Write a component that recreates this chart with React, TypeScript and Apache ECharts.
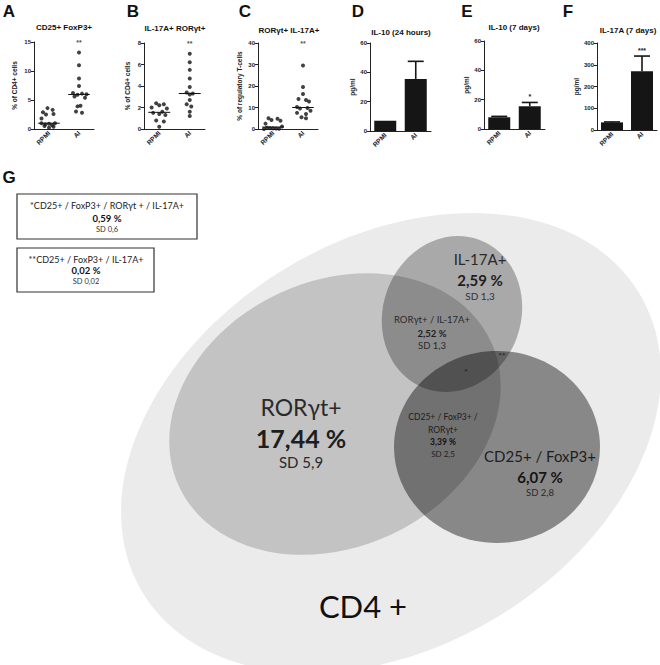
import React, { useEffect, useRef } from "react";
import * as echarts from "echarts";

const groups = ["RPMI", "AI"];
const letters = ["A", "B", "C", "D", "E", "F"];
const panelTitles = [
  "CD25+ FoxP3+",
  "IL-17A+ RORγt+",
  "RORγt+ IL-17A+",
  "IL-10 (24 hours)",
  "IL-10 (7 days)",
  "IL-17A (7 days)",
];
const yNames = ["% of CD4+ cells", "% of CD4+ cells", "% of regulatory T-cells", "pg/ml", "pg/ml", "pg/ml"];
const yMax = [15, 8, 40, 60, 60, 400];
const yStep = [5, 2, 10, 20, 20, 100];

// Panel A – CD25+ FoxP3+
const aRpmi = [3.6, 3.3, 2.9, 2.6, 2.5, 1.8, 1.0, 1.0, 0.9, 0.8, 0.7, 0.5, 0.4, 0.2];
const aRpmiSpread = [-0.05, 0.12, -0.2, 0.15, -0.1, -0.25, -0.25, 0.2, 0.0, -0.12, 0.1, -0.15, 0.15, 0.0];
const aAi = [13.2, 11.0, 8.7, 7.4, 6.2, 6.1, 6.0, 5.9, 5.6, 5.4, 4.0, 3.9, 3.0, 2.8];
const aAiSpread = [0, 0, 0, 0, -0.2, 0.1, 0.25, -0.05, -0.15, 0.2, 0.05, -0.05, -0.1, 0.1];

// Panel B – IL-17A+ RORγt+
const bRpmi = [2.4, 2.3, 2.2, 2.0, 1.9, 1.6, 1.5, 1.4, 1.3, 0.8, 0.7, 0.2];
const bRpmiSpread = [-0.1, 0.15, 0.0, -0.25, 0.25, 0.1, -0.2, 0.0, 0.2, -0.1, 0.15, 0.0];
const bAi = [7.0, 6.2, 5.5, 4.7, 3.9, 3.4, 3.3, 3.2, 2.7, 2.3, 2.1, 1.6, 1.2];
const bAiSpread = [0, 0, 0, 0, 0, -0.1, 0.1, 0.0, 0.0, -0.1, 0.05, 0, 0];

// Panel C – RORγt+ IL-17A+ (% of regulatory T-cells)
const cRpmi = [5.0, 4.8, 4.2, 3.8, 2.5, 1.2, 0.6, 0.4, 0.3, 0.2, 0.1, 0.0];
const cRpmiSpread = [-0.15, 0.15, -0.05, 0.25, -0.25, 0.3, -0.2, -0.1, 0, 0.1, 0.2, -0.3];
const cAi = [29.5, 19.5, 16.3, 14.0, 13.5, 12.8, 10.2, 9.8, 9.5, 8.5, 7.5, 7.0, 5.5, 5.0];
const cAiSpread = [0, 0, 0, -0.15, 0.1, 0.2, -0.2, 0.15, -0.1, 0.25, -0.2, 0.1, -0.05, 0.1];
const scatterStars = ["**", "**", "**"];

// Panels D–F – cytokines (mean, SEM)
const dMean = [7.0, 35.5];
const dSem = [0, 12.0];
const dStars = ["", ""];
const eMean = [8.0, 15.5];
const eSem = [0.6, 2.6];
const eStars = ["", "*"];
const fMean = [35, 270];
const fSem = [2, 70];
const fStars = ["", "***"];

// Panel G – Venn labels
const vennSets = ["CD4 +", "RORγt+", "IL-17A+", "CD25+ / FoxP3+"];
const vennPct = ["", "17,44 %", "2,59 %", "6,07 %"];
const vennSd = ["", "SD 5,9", "SD 1,3", "SD 2,8"];
const overlapRorIl = ["RORγt+ / IL-17A+", "2,52 %", "SD 1,3"];
const overlapCdRor = ["CD25+ / FoxP3+ /", "RORγt+", "3,39 %", "SD 2,5"];
const box1Lines = ["*CD25+ / FoxP3+ / RORγt + / IL-17A+", "0,59 %", "SD 0,6"];
const box2Lines = ["**CD25+ / FoxP3+ / IL-17A+", "0,02 %", "SD 0,02"];

const ARIAL = '"Liberation Sans", Arial, Helvetica, sans-serif';
const VENN = 'Lato, "Open Sans", "Noto Sans", sans-serif';

const median = (arr: number[]) => {
  const s = [...arr].sort((a, b) => a - b);
  const n = s.length;
  return n % 2 ? s[(n - 1) / 2] : (s[n / 2 - 1] + s[n / 2]) / 2;
};

const grids = [
  { left: 34, top: 42, width: 60, height: 87 },
  { left: 144, top: 43, width: 61, height: 86 },
  { left: 258, top: 43, width: 60, height: 86 },
  { left: 370, top: 43, width: 61, height: 88 },
  { left: 484, top: 41, width: 61, height: 88 },
  { left: 597, top: 43, width: 60, height: 87 },
];
const nameGaps = [16, 13, 15, 12, 13, 14];
const titlePos = [
  [64, 27], [175, 28], [289, 30], [401, 32], [514, 27], [628, 30],
];
const letterPos = [
  [9, 11], [133, 11], [245, 11], [358, 11], [467, 11], [568, 11],
];

function buildOption() {
  const grid: any[] = [];
  const xAxis: any[] = [];
  const yAxis: any[] = [];
  const series: any[] = [];

  const catAxis = (gi: number) => ({
    type: "category",
    gridIndex: gi,
    data: groups,
    boundaryGap: true,
    axisLine: { show: true, lineStyle: { color: "#222", width: 1 } },
    axisTick: { show: false },
    axisLabel: {
      rotate: 45,
      fontSize: 6.5,
      fontWeight: "bold",
      fontFamily: ARIAL,
      color: "#222",
      margin: 3,
    },
    splitLine: { show: false },
  });
  const valAxis = (gi: number) => ({
    type: "value",
    gridIndex: gi,
    min: 0,
    max: yMax[gi],
    interval: yStep[gi],
    name: yNames[gi],
    nameLocation: "middle",
    nameRotate: 90,
    nameGap: nameGaps[gi],
    nameTextStyle: { fontSize: 6.5, fontWeight: "bold", fontFamily: ARIAL, color: "#222" },
    axisLine: { show: true, lineStyle: { color: "#222", width: 1 } },
    axisTick: { show: true, length: 3, inside: false, lineStyle: { color: "#222" } },
    axisLabel: { fontSize: 6, fontWeight: "bold", fontFamily: ARIAL, color: "#222", margin: 3 },
    splitLine: { show: false },
  });

  const scatterSets = [
    [aRpmi, aRpmiSpread, aAi, aAiSpread],
    [bRpmi, bRpmiSpread, bAi, bAiSpread],
    [cRpmi, cRpmiSpread, cAi, cAiSpread],
  ];
  scatterSets.forEach((set, gi) => {
    grid.push({ ...grids[gi], containLabel: false });
    xAxis.push(catAxis(gi));
    const vIdx = xAxis.length;
    xAxis.push({ type: "value", gridIndex: gi, min: 0, max: 2, show: false });
    yAxis.push(valAxis(gi));
    const [r, rx, a, ax] = set as number[][];
    [[r, rx, 0.5], [a, ax, 1.5]].forEach(([vals, spread, c]: any) => {
      series.push({
        type: "scatter",
        xAxisIndex: vIdx,
        yAxisIndex: gi,
        data: vals.map((v: number, k: number) => [c + spread[k], v]),
        symbolSize: 4,
        itemStyle: { color: "#111" },
        silent: true,
      });
      const m = median(vals);
      series.push({
        type: "line",
        xAxisIndex: vIdx,
        yAxisIndex: gi,
        data: [[c - 0.36, m], [c + 0.36, m]],
        symbol: "none",
        lineStyle: { color: "#111", width: 1 },
        silent: true,
      });
    });
    series.push({
      type: "scatter",
      xAxisIndex: vIdx,
      yAxisIndex: gi,
      data: [[1.5, yMax[gi]]],
      symbolSize: 1,
      itemStyle: { color: "rgba(0,0,0,0)" },
      label: {
        show: true,
        position: "inside",
        formatter: scatterStars[gi],
        fontSize: 7,
        fontWeight: "bold",
        fontFamily: ARIAL,
        color: "#222",
      },
      silent: true,
    });
  });

  const barSets = [
    [dMean, dSem, dStars],
    [eMean, eSem, eStars],
    [fMean, fSem, fStars],
  ];
  barSets.forEach(([mean, sem, stars]: any, j) => {
    const gi = 3 + j;
    grid.push({ ...grids[gi], containLabel: false });
    const cIdx = xAxis.length;
    xAxis.push(catAxis(gi));
    yAxis.push(valAxis(gi));
    series.push({
      type: "bar",
      xAxisIndex: cIdx,
      yAxisIndex: gi,
      data: mean,
      barWidth: 22,
      itemStyle: { color: "#151515" },
      silent: true,
    });
    series.push({
      type: "custom",
      xAxisIndex: cIdx,
      yAxisIndex: gi,
      data: mean.map((m: number, k: number) => [k, m, sem[k]]),
      z: 5,
      silent: true,
      renderItem: (params: any, api: any) => {
        const k = api.value(0);
        const m = api.value(1);
        const e = api.value(2);
        const base = api.coord([k, m]);
        const top = api.coord([k, m + e]);
        const children: any[] = [];
        if (e > 0) {
          children.push({
            type: "line",
            shape: { x1: base[0], y1: base[1], x2: top[0], y2: top[1] },
            style: { stroke: "#151515", lineWidth: 1.6 },
          });
          children.push({
            type: "line",
            shape: { x1: top[0] - 8, y1: top[1], x2: top[0] + 8, y2: top[1] },
            style: { stroke: "#151515", lineWidth: 1.6 },
          });
        }
        const s = stars[params.dataIndex];
        if (s) {
          children.push({
            type: "text",
            style: {
              text: s,
              x: top[0],
              y: top[1] - 2,
              align: "center",
              verticalAlign: "bottom",
              fontSize: 7,
              fontWeight: "bold",
              fontFamily: ARIAL,
              fill: "#222",
            },
          });
        }
        return { type: "group", children };
      },
    });
  });

  const txt = (
    text: string,
    x: number,
    y: number,
    size: number,
    weight: string | number = "normal",
    color = "#2a2a2a",
    font = VENN
  ) => ({
    type: "text",
    x,
    y,
    silent: true,
    style: {
      text,
      fontSize: size,
      fontWeight: weight,
      fontFamily: font,
      fill: color,
      align: "center",
      verticalAlign: "middle",
    },
  });
  const ell = (cx: number, cy: number, rx: number, ry: number, rot: number, fill: string) => ({
    type: "ellipse",
    x: cx,
    y: cy,
    rotation: rot,
    silent: true,
    shape: { cx: 0, cy: 0, rx, ry },
    style: { fill },
  });

  const graphic: any[] = [];
  letters.forEach((l, i) =>
    graphic.push(txt(l, letterPos[i][0], letterPos[i][1], 17, "bold", "#111", ARIAL))
  );
  panelTitles.forEach((t, i) =>
    graphic.push(txt(t, titlePos[i][0], titlePos[i][1], 8, "bold", "#111", ARIAL))
  );
  graphic.push(txt("G", 9, 177, 17, "bold", "#111", ARIAL));

  // Venn shapes
  graphic.push(ell(391, 443, 290, 204, (31 * Math.PI) / 180, "#ebebeb"));
  graphic.push(ell(335, 414, 172, 133, (25 * Math.PI) / 180, "rgba(0,0,0,0.17)"));
  graphic.push(ell(452, 314, 69, 79, -0.35, "rgba(0,0,0,0.28)"));
  graphic.push(ell(497, 447, 103, 96, 0, "rgba(0,0,0,0.42)"));

  // Venn labels
  graphic.push(txt(vennSets[0], 363, 606, 31, "normal", "#111"));
  graphic.push(txt(vennSets[1], 301, 407, 23, "normal", "#2a2a2a"));
  graphic.push(txt(vennPct[1], 301, 438, 25, "bold", "#1e1e1e"));
  graphic.push(txt(vennSd[1], 301, 462, 15, "normal", "#2a2a2a"));
  graphic.push(txt(vennSets[2], 480, 259, 15, "normal", "#2a2a2a"));
  graphic.push(txt(vennPct[2], 480, 280, 15, "bold", "#1e1e1e"));
  graphic.push(txt(vennSd[2], 480, 296, 10, "normal", "#333"));
  graphic.push(txt(vennSets[3], 540, 456, 15, "normal", "#1e1e1e"));
  graphic.push(txt(vennPct[3], 540, 477, 15, "bold", "#151515"));
  graphic.push(txt(vennSd[3], 540, 492, 9.5, "normal", "#2a2a2a"));
  graphic.push(txt(overlapRorIl[0], 432, 319, 9.5, "normal", "#2a2a2a"));
  graphic.push(txt(overlapRorIl[1], 432, 333, 9.5, "bold", "#1e1e1e"));
  graphic.push(txt(overlapRorIl[2], 432, 345, 9.5, "normal", "#2a2a2a"));
  graphic.push(txt(overlapCdRor[0], 443, 417, 8.5, "normal", "#1e1e1e"));
  graphic.push(txt(overlapCdRor[1], 443, 430, 8.5, "normal", "#1e1e1e"));
  graphic.push(txt(overlapCdRor[2], 443, 442, 8.5, "bold", "#111"));
  graphic.push(txt(overlapCdRor[3], 443, 454, 8, "normal", "#1e1e1e"));
  graphic.push(txt("**", 502, 356, 8, "bold", "#222"));
  graphic.push(txt("*", 466, 372, 8, "bold", "#222"));

  // Footnote boxes
  graphic.push({
    type: "rect",
    silent: true,
    shape: { x: 17, y: 194, width: 180, height: 45 },
    style: { fill: "#fff", stroke: "#333", lineWidth: 1.2 },
  });
  graphic.push({
    type: "rect",
    silent: true,
    shape: { x: 17, y: 248, width: 137, height: 44 },
    style: { fill: "#fff", stroke: "#333", lineWidth: 1.2 },
  });
  graphic.push(txt(box1Lines[0], 107, 205, 9, "normal", "#222"));
  graphic.push(txt(box1Lines[1], 107, 218, 9.5, "bold", "#111"));
  graphic.push(txt(box1Lines[2], 107, 229, 7.5, "normal", "#333"));
  graphic.push(txt(box2Lines[0], 86, 259, 9, "normal", "#222"));
  graphic.push(txt(box2Lines[1], 86, 270, 9.5, "bold", "#111"));
  graphic.push(txt(box2Lines[2], 86, 281, 7.5, "normal", "#333"));

  return {
    animation: false,
    backgroundColor: "#ffffff",
    grid,
    xAxis,
    yAxis,
    series,
    graphic,
  };
}

export default function App() {
  const ref = useRef<HTMLDivElement>(null);
  useEffect(() => {
    if (!ref.current) return;
    const chart = echarts.init(ref.current, undefined, { renderer: "svg" });
    chart.setOption(buildOption() as any);
    return () => chart.dispose();
  }, []);
  return (
    <div
      ref={ref}
      style={{ position: "fixed", left: 0, top: 0, width: 660, height: 665, background: "#fff" }}
    />
  );
}
